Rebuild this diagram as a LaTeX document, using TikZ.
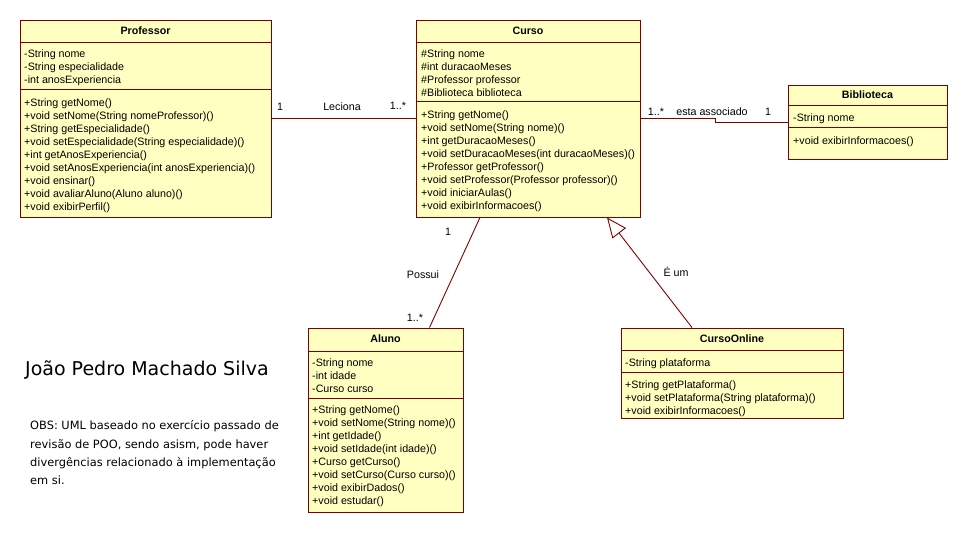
\documentclass[tikz,border=0pt]{standalone}
\usepackage{fontspec}
\setmainfont{Liberation Sans}
\newfontfamily\notefont{DejaVu Sans}
\usetikzlibrary{arrows.meta}
\definecolor{umlfill}{RGB}{255,255,194}
\definecolor{umlline}{RGB}{128,0,0}
\newcommand{\umlfont}{\fontsize{10.7}{13}\selectfont}

\begin{document}
\begin{tikzpicture}[x=1pt, y=-1pt,
  cls/.style={draw=umlline, fill=umlfill, line width=0.9pt, inner sep=0},
  div/.style={umlline, line width=0.9pt},
  title/.style={inner sep=0, font=\umlfont\bfseries},
  member/.style={anchor=base west, inner sep=0, font=\umlfont},
  lbl/.style={inner sep=0, font=\umlfont},
  assoc/.style={umlline, line width=0.9pt},
  gen/.style={umlline, line width=0.9pt, -{Triangle[open, length=20pt, width=17pt]}}]
\useasboundingbox (0,0) rectangle (968,533);

\node [cls, minimum width=251pt, minimum height=197pt] (prof) at (145.5,118.5) {};
\node [cls, minimum width=224pt, minimum height=197pt] (curso) at (528,118.5) {};
\node [cls, minimum width=159pt, minimum height=74pt] (bib) at (867.5,122) {};
\node [cls, minimum width=155pt, minimum height=184pt] (aluno) at (385.5,420) {};
\node [cls, minimum width=222pt, minimum height=90pt] (conline) at (732,373) {};

\draw [div] ([yshift=-23pt]prof.north west) -- ([yshift=-23pt]prof.north east);
\draw [div] ([yshift=-70pt]prof.north west) -- ([yshift=-70pt]prof.north east);
\draw [div] ([yshift=-23pt]curso.north west) -- ([yshift=-23pt]curso.north east);
\draw [div] ([yshift=-82pt]curso.north west) -- ([yshift=-82pt]curso.north east);
\draw [div] ([yshift=-21pt]bib.north west) -- ([yshift=-21pt]bib.north east);
\draw [div] ([yshift=-43pt]bib.north west) -- ([yshift=-43pt]bib.north east);
\draw [div] ([yshift=-24pt]aluno.north west) -- ([yshift=-24pt]aluno.north east);
\draw [div] ([yshift=-71pt]aluno.north west) -- ([yshift=-71pt]aluno.north east);
\draw [div] ([yshift=-23pt]conline.north west) -- ([yshift=-23pt]conline.north east);
\draw [div] ([yshift=-45pt]conline.north west) -- ([yshift=-45pt]conline.north east);

\node [title] (prof-t) at ([yshift=-11pt]prof.north) {Professor};
\node [title] (curso-t) at ([yshift=-11pt]curso.north) {Curso};
\node [title] (bib-t) at ([yshift=-10pt]bib.north) {Biblioteca};
\node [title] (aluno-t) at ([yshift=-11pt]aluno.north) {Aluno};
\node [title] (conline-t) at ([yshift=-11pt]conline.north) {CursoOnline};

\foreach \t [count=\i from 0] in {-String nome, -String especialidade, -int anosExperiencia}
\node [member] (prof-a\i) at (24,57+13*\i) {\t};
\foreach \t [count=\i from 0] in {+String getNome(), +void setNome(String nomeProfessor)(),
  +String getEspecialidade(), +void setEspecialidade(String especialidade)(),
  +int getAnosExperiencia(), +void setAnosExperiencia(int anosExperiencia)(),
  +void ensinar(), +void avaliarAluno(Aluno aluno)(), +void exibirPerfil()}
\node [member] (prof-m\i) at (24,106+13*\i) {\t};

\foreach \t [count=\i from 0] in {\#String nome, \#int duracaoMeses, \#Professor professor, \#Biblioteca biblioteca}
\node [member] (curso-a\i) at (421,57+13*\i) {\t};
\foreach \t [count=\i from 0] in {+String getNome(), +void setNome(String nome)(),
  +int getDuracaoMeses(), +void setDuracaoMeses(int duracaoMeses)(),
  +Professor getProfessor(), +void setProfessor(Professor professor)(),
  +void iniciarAulas(), +void exibirInformacoes()}
\node [member] (curso-m\i) at (421,118+13*\i) {\t};

\node [member] (bib-a0) at (793,121) {-String nome};
\node [member] (bib-m0) at (793,144) {+void exibirInformacoes()};

\foreach \t [count=\i from 0] in {-String nome, -int idade, -Curso curso}
\node [member] (aluno-a\i) at (312,366+13*\i) {\t};
\foreach \t [count=\i from 0] in {+String getNome(), +void setNome(String nome)(),
  +int getIdade(), +void setIdade(int idade)(), +Curso getCurso(),
  +void setCurso(Curso curso)(), +void exibirDados(), +void estudar()}
\node [member] (aluno-m\i) at (312,413+13*\i) {\t};

\node [member] (conline-a0) at (625,366) {-String plataforma};
\foreach \t [count=\i from 0] in {+String getPlataforma(), +void setPlataforma(String plataforma)(), +void exibirInformacoes()}
\node [member] (conline-m\i) at (625,388+13*\i) {\t};

\draw [assoc] (prof) -- (curso);
\draw [assoc] (curso.east) -- ++(75,0) |- (bib.west);
\draw [assoc] ([xshift=-48pt]curso.south) -- ([xshift=44pt]aluno.north);
\draw [gen] ([xshift=-40pt]conline.north) -- ([xshift=79pt]curso.south);

\node [lbl] (lec-a) at (280,107) {1};
\node [lbl] (lec) at (342,107) {Leciona};
\node [lbl] (lec-b) at (398,106) {1..*};
\node [lbl] (ass-a) at (656,112) {1..*};
\node [lbl] (ass) at (712,112) {esta associado};
\node [lbl] (ass-b) at (768,112) {1};
\node [lbl] (pos-a) at (448,232) {1};
\node [lbl] (pos) at (423,275) {Possui};
\node [lbl] (pos-b) at (415,318) {1..*};
\node [lbl] (eum) at (676,272) {É um};

\node [anchor=west, inner sep=0, font=\notefont\fontsize{19}{22}\selectfont] (autor) at (25,370) {João Pedro Machado Silva};
\node [anchor=north west, align=left, inner sep=0, font=\notefont\fontsize{11.4}{18.2}\selectfont] (obs) at (30,420.5)
  {OBS: UML baseado no exercício passado de\\revisão de POO, sendo asism, pode haver\\divergências relacionado à implementação\\em si.};
\end{tikzpicture}
\end{document}
